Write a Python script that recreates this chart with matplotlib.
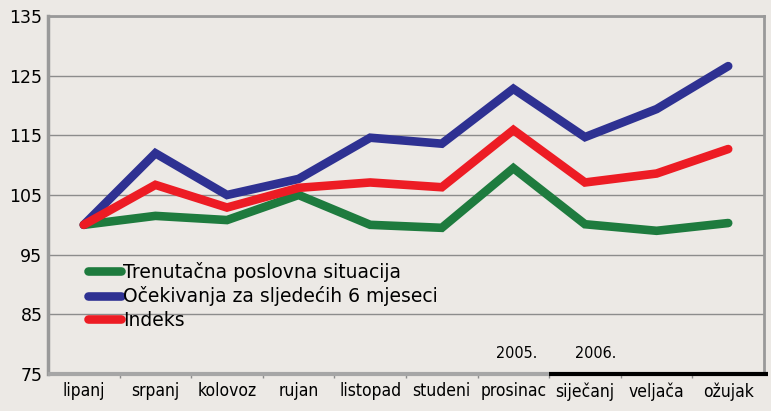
import matplotlib
matplotlib.use("Agg")
import matplotlib.pyplot as plt
from matplotlib.lines import Line2D

months = ["lipanj", "srpanj", "kolovoz", "rujan", "listopad", "studeni",
          "prosinac", "siječanj", "veljača", "ožujak"]
trenutacna = [100, 101.5, 100.8, 105, 100, 99.5, 109.5, 100.1, 99.0, 100.3]
ocekivanja = [100, 112.0, 105.0, 107.7, 114.6, 113.6, 122.8, 114.7, 119.4, 126.6]
indeks = [100, 106.7, 102.9, 106.2, 107.1, 106.3, 115.9, 107.1, 108.6, 112.7]
yticks = [75, 85, 95, 105, 115, 125, 135]
series_names = ["Trenutačna poslovna situacija", "Očekivanja za sljedećih 6 mjeseci", "Indeks"]
year_labels = ["2005.", "2006."]

bg = "#ECE9E5"
green = "#1E7B3E"
blue = "#2E3192"
red = "#ED1C24"
grid_c = "#8C8C8C"

fig = plt.figure(figsize=(7.71, 4.11), dpi=100, facecolor=bg)
ax = fig.add_axes([48/771, 37/411, (764-48)/771, (374-16)/411], facecolor=bg)

x = list(range(len(months)))
lw = 6.2
ax.plot(x, trenutacna, color=green, lw=lw, solid_joinstyle="miter", solid_capstyle="round", zorder=3)
ax.plot(x, ocekivanja, color=blue, lw=lw, solid_joinstyle="miter", solid_capstyle="round", zorder=4)
ax.plot(x, indeks, color=red, lw=lw, solid_joinstyle="miter", solid_capstyle="round", zorder=5)

ax.set_xlim(-0.5, len(months) - 0.5)
ax.set_ylim(75, 135)
ax.set_yticks(yticks)
ax.set_yticklabels([str(v) for v in yticks], fontsize=12.5, family="DejaVu Sans")
ax.yaxis.grid(True, color=grid_c, lw=1.0)
ax.set_axisbelow(True)
ax.tick_params(axis="y", length=0, pad=4)

ax.set_xticks(x)
ax.set_xticklabels(months, fontsize=12.5, family="DejaVu Sans", stretch="condensed")
ax.set_xticks([i - 0.5 for i in range(1, len(months))], minor=True)
ax.tick_params(axis="x", which="major", length=0, pad=6)
ax.tick_params(axis="x", which="minor", length=3, color=grid_c, width=1)

for s in ["left", "top", "right"]:
    ax.spines[s].set_color("#999999")
ax.spines["left"].set_linewidth(2.5)
ax.spines["top"].set_linewidth(2)
ax.spines["right"].set_linewidth(2)
ax.spines["bottom"].set_visible(False)
ax.plot([-0.5, 6.5], [75, 75], color="#A6A6A6", lw=3, clip_on=False, zorder=6, solid_capstyle="butt")
ax.plot([6.5, 9.55], [75, 75], color="black", lw=3, clip_on=False, zorder=6, solid_capstyle="butt")

ax.text(6.05, 78.5, year_labels[0], fontsize=11.5, family="DejaVu Sans", stretch="condensed", ha="center", va="center")
ax.text(7.15, 78.5, year_labels[1], fontsize=11.5, family="DejaVu Sans", stretch="condensed", ha="center", va="center")

handles = [Line2D([0], [0], color=c, lw=6.2, solid_capstyle="round") for c in (green, blue, red)]
leg = ax.legend(handles, series_names, loc="upper left", bbox_to_anchor=(0.045, 0.335),
                frameon=False, fontsize=13.5, handlelength=1.75, handletextpad=0.15,
                labelspacing=0.24, borderaxespad=0)

fig.savefig("out.png", dpi=100, facecolor=bg)
